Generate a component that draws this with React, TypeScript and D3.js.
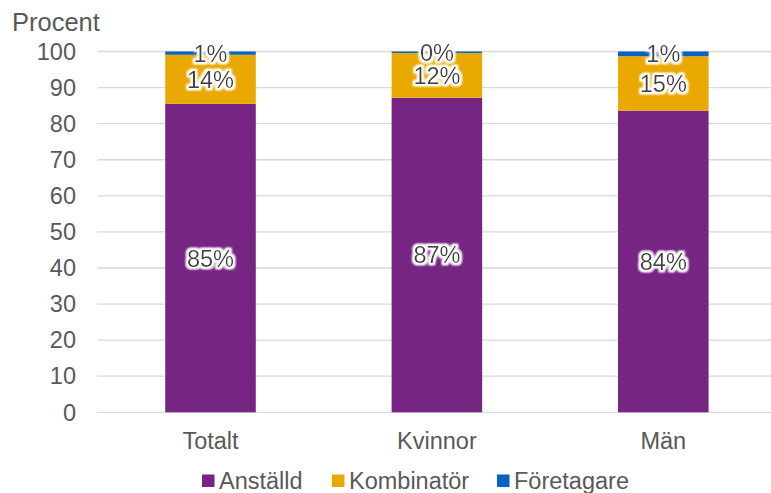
import { useEffect, useRef } from 'react';
import * as d3 from 'd3';

// Andel per sysselsättningsform
const categories = ['Totalt', 'Kvinnor', 'Män'];
const anstalld = [85.5, 87.2, 83.6];
const kombinator = [13.6, 12.4, 15.1];
const foretagare = [0.9, 0.4, 1.3];
const labelAnstalld = ['85%', '87%', '84%'];
const labelKombinator = ['14%', '12%', '15%'];
const labelForetagare = ['1%', '0%', '1%'];
const seriesNames = ['Anställd', 'Kombinatör', 'Företagare'];
const seriesColors = ['#772583', '#E9A900', '#0563C1'];
const yTicks = [0, 10, 20, 30, 40, 50, 60, 70, 80, 90, 100];

const FONT = "'Liberation Sans', Arial, sans-serif";

export default function App() {
  const svgRef = useRef<SVGSVGElement | null>(null);

  useEffect(() => {
    if (!svgRef.current) return;
    const width = 771;
    const height = 493;

    const svg = d3.select(svgRef.current);
    svg.selectAll('*').remove();
    svg.attr('width', width).attr('height', height);

    // white glow behind data labels
    const defs = svg.append('defs');
    const f = defs.append('filter').attr('id', 'glow').attr('x', '-20%').attr('y', '-30%')
      .attr('width', '140%').attr('height', '160%');
    f.append('feMorphology').attr('in', 'SourceAlpha').attr('operator', 'dilate').attr('radius', 1.6).attr('result', 'd');
    f.append('feGaussianBlur').attr('in', 'd').attr('stdDeviation', 1.2).attr('result', 'b');
    f.append('feFlood').attr('flood-color', '#ffffff');
    f.append('feComposite').attr('in2', 'b').attr('operator', 'in').attr('result', 'w');
    const m = f.append('feMerge');
    m.append('feMergeNode').attr('in', 'w');
    m.append('feMergeNode').attr('in', 'w');
    m.append('feMergeNode').attr('in', 'SourceGraphic');

    const x = d3.scaleBand<string>()
      .domain(categories)
      .range([97.3, 776.5])
      .paddingInner(0.6)
      .paddingOuter(0.3);
    const y = d3.scaleLinear().domain([0, 100]).range([412.3, 51.5]);

    // Grid lines
    svg.append('g')
      .selectAll('line')
      .data(yTicks)
      .join('line')
      .attr('x1', 97.3)
      .attr('x2', width)
      .attr('y1', d => y(d))
      .attr('y2', d => y(d))
      .attr('stroke', '#D9D9D9')
      .attr('stroke-width', 1.3);

    // Y axis labels
    svg.append('g')
      .selectAll('text')
      .data(yTicks)
      .join('text')
      .attr('x', 76)
      .attr('y', d => y(d))
      .attr('dy', '0.35em')
      .attr('text-anchor', 'end')
      .attr('fill', '#595959')
      .attr('font-size', '23.5px')
      .attr('font-family', FONT)
      .text(d => d);

    svg.append('text')
      .attr('x', 12)
      .attr('y', 31)
      .attr('fill', '#595959')
      .attr('font-size', '25.5px')
      .attr('font-family', FONT)
      .text('Procent');

    // Stacked bars
    const rows = categories.map((c, i) => ({
      cat: c,
      Anställd: anstalld[i],
      Kombinatör: kombinator[i],
      Företagare: foretagare[i],
    }));
    const stack = d3.stack<any>().keys(seriesNames)(rows);
    const labels = [labelAnstalld, labelKombinator, labelForetagare];

    stack.forEach((layer, si) => {
      svg.append('g')
        .selectAll('rect')
        .data(layer)
        .join('rect')
        .attr('x', d => x(d.data.cat) as number)
        .attr('width', x.bandwidth())
        .attr('y', d => y(d[1]))
        .attr('height', d => y(d[0]) - y(d[1]))
        .attr('fill', seriesColors[si]);
    });

    stack.forEach((layer, si) => {
      svg.append('g')
        .selectAll('text')
        .data(layer)
        .join('text')
        .attr('x', d => (x(d.data.cat) as number) + x.bandwidth() / 2)
        .attr('y', d => y((d[0] + d[1]) / 2))
        .attr('dy', '0.36em')
        .attr('text-anchor', 'middle')
        .attr('fill', '#404040')
        .attr('font-size', '23.5px')
        .attr('font-family', FONT)
        .attr('filter', 'url(#glow)')
        .text((d, i) => labels[si][i]);
    });

    // Category labels
    svg.append('g')
      .selectAll('text')
      .data(categories)
      .join('text')
      .attr('x', d => (x(d) as number) + x.bandwidth() / 2)
      .attr('y', 441)
      .attr('dy', '0.35em')
      .attr('text-anchor', 'middle')
      .attr('fill', '#595959')
      .attr('font-size', '23.5px')
      .attr('font-family', FONT)
      .text(d => d);

    // Legend
    const legendX = [202, 332, 497];
    const lg = svg.append('g')
      .selectAll('g')
      .data(seriesNames)
      .join('g')
      .attr('transform', (d, i) => `translate(${legendX[i]}, 481)`);
    lg.append('rect')
      .attr('x', 0)
      .attr('y', -6.5)
      .attr('width', 12.5)
      .attr('height', 12.5)
      .attr('fill', (d, i) => seriesColors[i]);
    lg.append('text')
      .attr('x', 17)
      .attr('y', 0)
      .attr('dy', '0.35em')
      .attr('fill', '#595959')
      .attr('font-size', '23.5px')
      .attr('font-family', FONT)
      .text(d => d);
  }, []);

  return (
    <div style={{ position: 'absolute', left: 0, top: 0, width: 771, height: 493, overflow: 'hidden', background: '#fff' }}>
      <svg ref={svgRef} style={{ display: 'block' }}></svg>
    </div>
  );
}
